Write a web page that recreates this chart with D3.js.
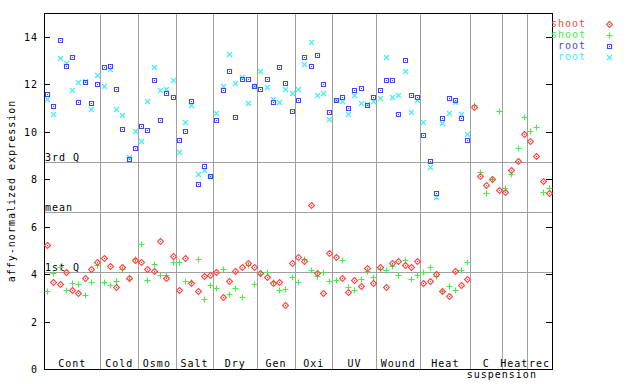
<!DOCTYPE html>
<html>
<head>
<meta charset="utf-8">
<script src="https://cdn.jsdelivr.net/npm/d3@7"></script>
<style>
  html, body { margin: 0; padding: 0; background: #fff; }
  svg { display: block; }
  text { font-family: 'DejaVu Sans Mono', monospace; font-size: 10px; letter-spacing: 1px; }
</style>
</head>
<body>
<svg id="chart" width="640" height="384"></svg>
<script>
// Experiment groups along the x axis, with the number of samples in each
const groups = ['Cont', 'Cold', 'Osmo', 'Salt', 'Dry', 'Gen', 'Oxi', 'UV', 'Wound', 'Heat', 'C', 'Heat', 'rec'];
const groupSizes = [9, 6, 6, 6, 7, 6, 6, 7, 7, 8, 5, 4, 4];

// shoot, replicate 1 (red diamonds)
const shootA = [
  5.21, 3.65, 3.58, 4.07, 3.32, 3.20, 3.82, 4.21, 4.50,
  4.68, 4.33, 3.44, 4.29, 3.85, 4.58,
  4.50, 4.21, 4.12, 5.39, 3.82, 4.75,
  3.32, 4.66, 3.61, 3.27, 3.90, 3.95,
  4.07, 3.02, 3.70, 4.12, 4.29, 4.45, 4.29,
  4.03, 3.86, 3.61, 3.65, 2.68, 4.45,
  4.71, 4.54, 6.90, 4.03, 3.19, 4.88,
  4.71, 3.82, 3.23, 3.74, 3.48, 4.24, 3.61,
  4.29, 3.44, 4.45, 4.54, 4.37, 4.29, 4.54,
  3.61, 3.70, 3.99, 3.27, 3.06, 4.12, 3.53, 3.78,
  11.05, 8.12, 7.74, 7.99, 7.53,
  7.45, 8.37, 8.75, 9.89,
  9.59, 8.96, 7.91, 7.40
];

// shoot, replicate 2 (green plus)
const shootB = [
  3.27, 4.03, 4.29, 3.32, 3.61, 3.58, 3.10, 3.65, 4.37,
  3.65, 3.53, 3.70, 4.20, 3.78, 4.62,
  5.25, 3.74, 4.41, 3.95, 3.95, 4.50,
  4.50, 3.70, 3.65, 4.62, 2.94, 3.53,
  3.40, 4.20, 3.15, 3.40, 3.02, 4.37, 3.57,
  3.99, 4.07, 3.65, 3.32, 3.36, 3.86,
  3.65, 4.62, 4.16, 3.90, 4.07, 3.70,
  3.74, 4.58, 3.44, 3.32, 3.78, 4.12, 3.86,
  4.20, 4.16, 4.33, 3.95, 4.58, 3.78, 3.95,
  4.07, 4.29, 3.90, 3.27, 3.48, 3.32, 4.16, 4.50,
  11.12, 8.29, 7.40, 7.99, 10.87,
  7.61, 8.20, 9.30, 10.60,
  10.02, 10.19, 7.45, 7.61
];

// root, replicate 1 (blue squares) - no root samples for the suspension cells
const rootA = [
  11.58, 11.07, 13.85, 12.76, 13.13, 11.24, 12.11, 11.20, 12.01,
  12.71, 12.76, 11.79, 10.10, 8.85, 9.30,
  10.24, 10.08, 12.17, 10.48, 11.62, 11.45,
  9.64, 10.02, 11.28, 7.78, 8.55, 8.13,
  10.48, 11.74, 12.54, 10.61, 12.23, 12.20, 11.91,
  11.79, 12.20, 11.24, 12.71, 12.03, 10.86,
  11.32, 13.13, 12.76, 13.22, 12.00, 10.82,
  11.32, 11.45, 10.99, 11.74, 11.83, 11.11, 11.45,
  11.74, 12.17, 12.17, 10.73, 13.00, 11.53, 11.45,
  9.85, 8.75, 7.40, 10.56, 11.41, 11.32, 10.56, 9.64,
  null, null, null, null, null,
  null, null, null, null,
  null, null, null, null
];

// root, replicate 2 (cyan crosses)
const rootB = [
  11.38, 10.73, 13.09, 12.90, 11.74, 12.08, 12.12, 10.96, 12.38,
  11.91, 12.63, 10.96, 10.69, 8.92, 10.02,
  9.59, 11.28, 12.71, 11.74, 11.79, 12.17,
  9.13, 10.40, 11.11, 8.20, 8.39, 8.15,
  10.77, 11.91, 13.26, 12.03, 12.29, 11.20, 11.91,
  12.54, 11.87, 11.37, 11.24, 11.79, 11.62,
  11.79, 12.84, 13.77, 11.53, 11.62, 10.52,
  11.32, 11.28, 10.73, 11.53, 11.20, 11.16, 11.28,
  11.41, 13.13, 11.45, 11.53, 12.54, 10.82, 11.32,
  10.40, 8.50, 7.24, 10.35, 10.77, 11.24, 10.73, 9.89,
  null, null, null, null, null,
  null, null, null, null,
  null, null, null, null
];

// Reference lines across the plot
const refLabels = ['3rd Q', 'mean', '1st Q'];
const refValues = [8.71, 6.62, 4.09];

const yTicks = [0, 2, 4, 6, 8, 10, 12, 14];

const MARGIN = { top: 13, right: 88, bottom: 15, left: 44 };
const WIDTH = 640 - MARGIN.left - MARGIN.right;
const HEIGHT = 384 - MARGIN.top - MARGIN.bottom;

const svg = d3.select('#chart');
const g = svg.append('g').attr('transform', `translate(${MARGIN.left},${MARGIN.top})`);

const nSamples = d3.sum(groupSizes);
const x = d3.scaleLinear().domain([-0.5, nSamples - 0.5]).range([0, WIDTH]);
const y = d3.scaleLinear().domain([0, 15]).range([HEIGHT, 0]);

const GRID = '#a0a0a0';
const px = v => Math.round(v) + 0.5;

// group boundaries (start index of each group)
const starts = [];
groupSizes.reduce((acc, n) => { starts.push(acc); return acc + n; }, 0);

// Vertical separators between groups
g.selectAll('.sep')
  .data(starts.slice(1))
  .enter()
  .append('line')
  .attr('x1', d => px(x(d - 0.5)))
  .attr('x2', d => px(x(d - 0.5)))
  .attr('y1', 0)
  .attr('y2', HEIGHT)
  .attr('stroke', GRID)
  .attr('stroke-width', 1);

// Horizontal reference lines + labels
g.selectAll('.ref')
  .data(refValues)
  .enter()
  .append('line')
  .attr('x1', 0)
  .attr('x2', WIDTH)
  .attr('y1', d => px(y(d)))
  .attr('y2', d => px(y(d)))
  .attr('stroke', GRID)
  .attr('stroke-width', 1);

g.selectAll('.ref-label')
  .data(refValues)
  .enter()
  .append('text')
  .attr('x', 1)
  .attr('y', d => y(d) - 1)
  .style('fill', '#000')
  .text((d, i) => refLabels[i]);

// Frame
g.append('rect')
  .attr('x', 0.5)
  .attr('y', 0.5)
  .attr('width', WIDTH)
  .attr('height', HEIGHT)
  .attr('fill', 'none')
  .attr('stroke', '#000')
  .attr('stroke-width', 1);

// Y ticks, inward on both sides
yTicks.forEach(t => {
  const ty = px(y(t));
  g.append('line').attr('x1', 0).attr('x2', 6).attr('y1', ty).attr('y2', ty).attr('stroke', '#000');
  g.append('line').attr('x1', WIDTH - 6).attr('x2', WIDTH).attr('y1', ty).attr('y2', ty).attr('stroke', '#000');
  g.append('text')
    .attr('x', -6)
    .attr('y', y(t) + 4)
    .attr('text-anchor', 'end')
    .style('fill', '#000')
    .text(t);
});

// Y axis title
svg.append('text')
  .attr('transform', `translate(15,${MARGIN.top + HEIGHT / 2}) rotate(-90)`)
  .attr('text-anchor', 'middle')
  .style('fill', '#000')
  .text('affy-normalized expression');

// Group labels inside the bottom of the plot
g.selectAll('.glabel')
  .data(groups)
  .enter()
  .append('text')
  .attr('x', (d, i) => x(starts[i] + (groupSizes[i] - 1) / 2))
  .attr('y', HEIGHT - 2)
  .attr('text-anchor', 'middle')
  .style('fill', '#000')
  .text(d => d);

// second line for the suspension-cell groups
g.append('text')
  .attr('x', x(starts[11] - 0.5))
  .attr('y', HEIGHT + 9)
  .attr('text-anchor', 'middle')
  .style('fill', '#000')
  .text('suspension');

// Marker shapes
const SHAPES = {
  diamond: 'M0,-3L3,0L0,3L-3,0Z',
  plus: 'M-3,0H3M0,-3V3',
  square: 'M-2,-2H2V2H-2Z',
  cross: 'M-2.5,-2.5L2.5,2.5M-2.5,2.5L2.5,-2.5'
};

const series = [
  { name: 'shoot', values: shootA, color: '#ff4444', shape: 'diamond', dot: true },
  { name: 'shoot', values: shootB, color: '#44ee44', shape: 'plus', dot: false },
  { name: 'root', values: rootA, color: '#4444ff', shape: 'square', dot: true },
  { name: 'root', values: rootB, color: '#44eeee', shape: 'cross', dot: false }
];

function drawMarker(sel, s) {
  sel.append('path')
    .attr('d', SHAPES[s.shape])
    .attr('fill', 'none')
    .attr('stroke', s.color)
    .attr('stroke-width', 1.1);
  if (s.dot) {
    sel.append('rect')
      .attr('x', -0.5).attr('y', -0.5)
      .attr('width', 1).attr('height', 1)
      .attr('fill', s.color);
  }
}

series.slice().reverse().forEach(s => {
  const pts = s.values
    .map((v, i) => ({ i, v }))
    .filter(d => d.v !== null);
  g.selectAll(null)
    .data(pts)
    .enter()
    .append('g')
    .attr('transform', d => `translate(${px(x(d.i))},${px(y(d.v))})`)
    .each(function() { drawMarker(d3.select(this), s); });
});

// Legend (top right, outside plot)
const legend = svg.append('g').attr('transform', 'translate(586,0)');
series.forEach((s, i) => {
  const ly = 23.5 + i * 11;
  legend.append('text')
    .attr('x', 0)
    .attr('y', ly + 3.5)
    .attr('text-anchor', 'end')
    .style('fill', s.color)
    .text(s.name);
  const m = legend.append('g').attr('transform', `translate(23.5,${Math.round(ly) + 0.5})`);
  drawMarker(m, s);
});
</script>
</body>
</html>
